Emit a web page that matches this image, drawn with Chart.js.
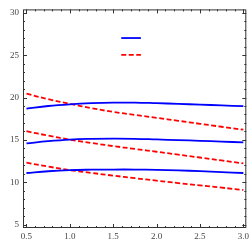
<!DOCTYPE html>
<html>
<head>
<meta charset="utf-8">
<script src="https://cdn.jsdelivr.net/npm/chart.js@4"></script>
<style>
  html, body { margin: 0; padding: 0; background: #fff; }
  #wrap { width: 252px; height: 251px; }
</style>
</head>
<body>
<div id="wrap"><canvas id="c" width="252" height="251"></canvas></div>
<script>
const xValues = [0.5, 0.75, 1.0, 1.25, 1.5, 1.75, 2.0, 2.25, 2.5, 2.75, 3.0];
const blueTop = [18.7, 19.0, 19.2, 19.33, 19.4, 19.4, 19.33, 19.25, 19.16, 19.07, 18.98];
const blueMid = [14.58, 14.85, 15.04, 15.12, 15.15, 15.13, 15.05, 14.97, 14.89, 14.8, 14.7];
const blueLow = [11.09, 11.3, 11.43, 11.48, 11.5, 11.5, 11.47, 11.4, 11.31, 11.2, 11.09];
const redTop = [20.45, 19.8, 19.25, 18.75, 18.3, 17.95, 17.6, 17.25, 16.9, 16.55, 16.2];
const redMid = [16.02, 15.5, 15.03, 14.63, 14.27, 13.93, 13.6, 13.25, 12.92, 12.57, 12.23];
const redLow = [12.31, 11.85, 11.43, 11.1, 10.78, 10.48, 10.19, 9.9, 9.63, 9.36, 9.09];
const xTicks = [0.5, 1.0, 1.5, 2.0, 2.5, 3.0];
const yTicks = [5, 10, 15, 20, 25, 30];
const xMinorStep = 0.1;
const yMinorStep = 1;

const BLUE = '#0000ff';
const RED = '#ff0000';
const pts = arr => arr.map((v, i) => ({ x: xValues[i], y: v }));
function blueDs(arr) {
  return { data: pts(arr), borderColor: BLUE, borderWidth: 1.8, pointRadius: 0, tension: 0.4, fill: false };
}
function redDs(arr) {
  return { data: pts(arr), borderColor: RED, borderWidth: 1.8, borderDash: [5, 2.5], pointRadius: 0, tension: 0.4, fill: false };
}

const framePlugin = {
  id: 'frame',
  afterDatasetsDraw(chart) {
    const ctx = chart.ctx, a = chart.chartArea;
    const xs = chart.scales.x, ys = chart.scales.y;
    ctx.save();
    ctx.strokeStyle = '#333';
    ctx.lineWidth = 1;
    ctx.strokeRect(a.left + 0.5, a.top + 0.5, a.right - a.left - 1, a.bottom - a.top - 1);
    ctx.beginPath();
    // x ticks
    const xmin = xs.min, xmax = xs.max;
    for (let v = Math.ceil(xmin / xMinorStep) * xMinorStep; v <= xmax + 1e-9; v += xMinorStep) {
      const vv = Math.round(v * 100) / 100;
      const major = xTicks.some(t => Math.abs(t - vv) < 1e-6);
      const len = major ? 4 : 2;
      const px = Math.round(xs.getPixelForValue(vv)) + 0.5;
      ctx.moveTo(px, a.bottom); ctx.lineTo(px, a.bottom - len);
      ctx.moveTo(px, a.top); ctx.lineTo(px, a.top + len);
    }
    for (let v = Math.ceil(ys.min / yMinorStep) * yMinorStep; v <= ys.max + 1e-9; v += yMinorStep) {
      const major = yTicks.some(t => Math.abs(t - v) < 1e-6);
      const len = major ? 4 : 2;
      const py = Math.round(ys.getPixelForValue(v)) + 0.5;
      ctx.moveTo(a.left, py); ctx.lineTo(a.left + len, py);
      ctx.moveTo(a.right, py); ctx.lineTo(a.right - len, py);
    }
    ctx.stroke();
    // legend samples (no labels)
    const lx0 = a.left + (a.right - a.left) * 0.44;
    const lx1 = a.left + (a.right - a.left) * 0.528;
    const ly0 = a.top + (a.bottom - a.top) * 0.131;
    const ly1 = a.top + (a.bottom - a.top) * 0.208;
    const ds = chart.data.datasets;
    [[ds[0], ly0], [ds[1], ly1]].forEach(([d, y]) => {
      ctx.beginPath();
      ctx.strokeStyle = d.borderColor;
      ctx.lineWidth = d.borderWidth;
      ctx.setLineDash(d.borderDash || []);
      ctx.moveTo(lx0, y); ctx.lineTo(lx1, y);
      ctx.stroke();
    });
    ctx.restore();
  }
};

new Chart(document.getElementById('c'), {
  type: 'line',
  data: {
    datasets: [
      blueDs(blueTop), redDs(redTop),
      blueDs(blueMid), redDs(redMid),
      blueDs(blueLow), redDs(redLow)
    ]
  },
  options: {
    responsive: false,
    animation: false,
    devicePixelRatio: 1,
    layout: { padding: { top: 1, right: 2, left: 0, bottom: 0 } },
    plugins: { legend: { display: false }, tooltip: { enabled: false } },
    scales: {
      x: {
        type: 'linear', min: 0.46, max: 3.034,
        grid: { display: false, drawTicks: false },
        border: { display: false },
        afterBuildTicks: s => { s.ticks = xTicks.map(v => ({ value: v })); },
        afterFit: s => { s.height = 23; },
        ticks: {
          padding: 3, color: '#444', maxRotation: 0, autoSkip: false,
          font: { family: 'Liberation Serif', size: 9 },
          callback: v => Number(v).toFixed(1)
        }
      },
      y: {
        type: 'linear', min: 4.6, max: 30.4,
        grid: { display: false, drawTicks: false },
        border: { display: false },
        afterBuildTicks: s => { s.ticks = yTicks.map(v => ({ value: v })); },
        afterFit: s => { s.width = 23; },
        ticks: {
          padding: 4, color: '#444', autoSkip: false,
          font: { family: 'Liberation Serif', size: 9 },
          callback: v => String(v)
        }
      }
    }
  },
  plugins: [framePlugin]
});
</script>
</body>
</html>
